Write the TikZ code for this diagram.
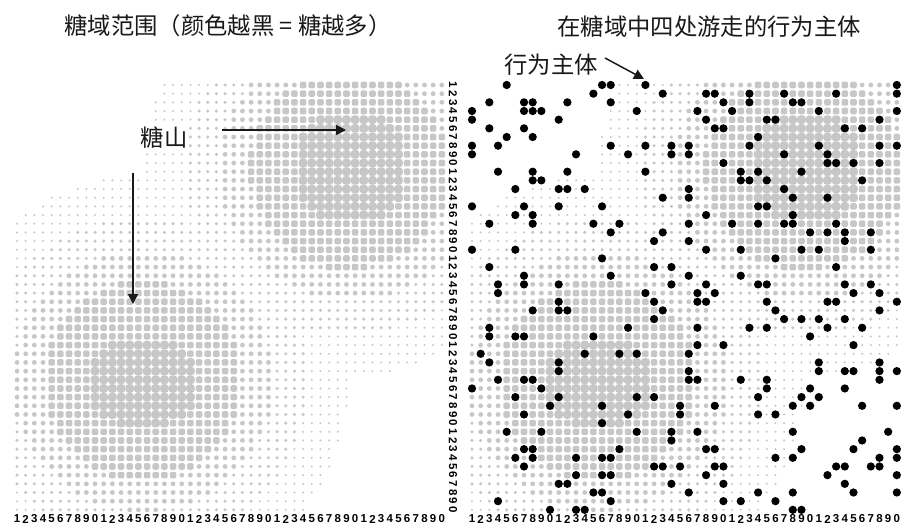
\documentclass[tikz,border=0pt]{standalone}
\usepackage{fontspec}
\newfontfamily\cjk{Noto Sans CJK SC}
\newfontfamily\digfont{Liberation Sans}
\usetikzlibrary{arrows.meta}
\definecolor{sugar}{gray}{0.78}
\definecolor{ink}{gray}{0.1}
\tikzset{
  lbl/.style={font=\cjk\fontsize{17.5}{20}\selectfont, text=ink, inner sep=1pt},
  pointer/.style={draw=ink, line width=1.1pt, -{Triangle[length=7.5pt,width=7.5pt]}},
  digit/.style={font=\digfont\bfseries\fontsize{8.6}{9}\selectfont, inner sep=0pt, text=black},
  agent/.style={fill=black},
}
\begin{document}
\begin{tikzpicture}[x=0.75pt,y=-0.75pt]
\useasboundingbox (0,0) rectangle (901,525);
\fill[white] (0,0) rectangle (901,525);
\pgfmathsetseed{7}
% sugar landscape (left and right panels) and agents (right panel)
\foreach \r in {0,...,49}{
  \foreach \c in {0,...,49}{
    \pgfmathsetmacro\d{min(veclen(\c-38.3,\r-9.8),veclen(\c-14.5,\r-34.2))}
    \pgfmathsetmacro\ea{max(max(abs(\c-38.5),abs(\r-9.5)),0.87*veclen(\c-38.5,\r-9.5))}
    \pgfmathsetmacro\eb{max(max(abs(\c-14.5),1.25*abs(\r-34.3)),0.87*veclen(\c-14.5,1.25*(\r-34.3)))}
    \pgfmathsetmacro\e{min(\ea,\eb)}
    \pgfmathsetmacro\lx{17+8.67*\c}
    \pgfmathsetmacro\rx{472+8.67*\c}
    \pgfmathsetmacro\yy{85+8.67*\r}
    \pgfmathtruncatemacro\lev{\e<=5.9 ? 5 : (\d<=11.5 ? 4 : (\d<=15 ? 3 : (\d<=19 ? 2 : (\d<=23.7 ? 1 : 0))))}
    \ifcase\lev
    \or
      \fill[sugar] (\lx,\yy) circle[radius=0.85pt];
      \fill[sugar] (\rx,\yy) circle[radius=0.85pt];
    \or
      \fill[sugar] (\lx,\yy) circle[radius=1.3pt];
      \fill[sugar] (\rx,\yy) circle[radius=1.3pt];
    \or
      \fill[sugar] (\lx,\yy) circle[radius=1.8pt];
      \fill[sugar] (\rx,\yy) circle[radius=1.8pt];
    \or
      \fill[sugar, rounded corners=1.5pt] (\lx-3.3,\yy-3.3) rectangle (\lx+3.3,\yy+3.3);
      \fill[sugar, rounded corners=1.5pt] (\rx-3.3,\yy-3.3) rectangle (\rx+3.3,\yy+3.3);
    \or
      \fill[sugar, rounded corners=2.6pt] (\lx-4.36,\yy-4.36) rectangle (\lx+4.36,\yy+4.36);
      \fill[sugar, rounded corners=2.6pt] (\rx-4.36,\yy-4.36) rectangle (\rx+4.36,\yy+4.36);
    \fi
    \pgfmathtruncatemacro\ag{rnd<0.13 ? 1 : 0}
    \ifnum\ag=1
      \fill[agent] (\rx,\yy) circle[radius=3.1pt];
    \fi
  }
}
% axis digits
\foreach \k in {1,...,50}{
  \pgfmathtruncatemacro\dg{mod(\k,10)}
  \node[digit] (bl\k) at (17+8.67*\k-8.67,519) {\dg};
  \node[digit] (br\k) at (472+8.67*\k-8.67,519) {\dg};
  \node[digit, rotate=-90] (vr\k) at (453,85+8.67*\k-8.67) {\dg};
}
% titles and labels
\node[lbl] (t1) at (228,26) {糖域范围（颜色越黑 = 糖越多）};
\node[lbl] (t2) at (709,27) {在糖域中四处游走的行为主体};
\node[lbl, fill=white] (agl) at (551,65) {行为主体};
\node[lbl, fill=white] (hill) at (164,138) {糖山};
% pointers
\coordinate (h1s) at (222,130);
\coordinate (h1e) at (346,130);
\coordinate (h2s) at (133,173);
\coordinate (h2e) at (133,304);
\coordinate (a1s) at (605,58);
\coordinate (a1e) at (644,79);
\draw[pointer] (h1s) -- (h1e);
\draw[pointer] (h2s) -- (h2e);
\draw[pointer] (a1s) -- (a1e);
\end{tikzpicture}
\end{document}
